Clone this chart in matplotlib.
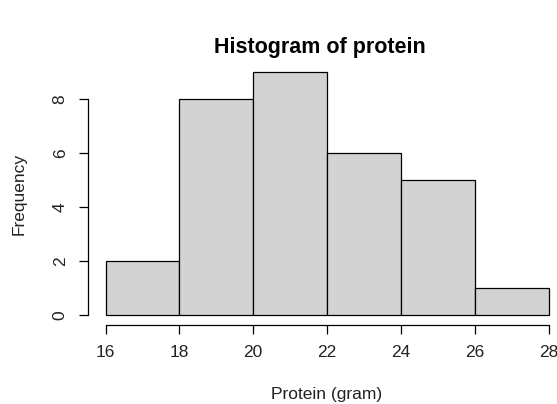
import matplotlib.pyplot as plt

# histogram bins
bin_edges = [16, 18, 20, 22, 24, 26, 28]
counts = [2, 8, 9, 6, 5, 1]
y_ticks = [0, 2, 4, 6, 8]

plt.rcParams['font.family'] = ['Liberation Sans', 'DejaVu Sans']

W, H = 557, 404
fig = plt.figure(figsize=(W / 100, H / 100), dpi=100)

# plot region in pixels (R style, 4% padding on each axis)
left, right = 87.8, 566.4
top, bottom = 62.3, 324.7
ax = fig.add_axes([left / W, 1 - bottom / H, (right - left) / W, (bottom - top) / H])

widths = [b - a for a, b in zip(bin_edges[:-1], bin_edges[1:])]
ax.bar(bin_edges[:-1], counts, width=widths, align='edge',
       color='#d3d3d3', edgecolor='black', linewidth=0.9)

ax.set_xlim(15.52, 28.48)
ax.set_ylim(-0.36, 9.36)

for s in ['top', 'right']:
    ax.spines[s].set_visible(False)
ax.spines['left'].set_bounds(0, 8)
ax.spines['bottom'].set_bounds(16, 28)
for s in ['left', 'bottom']:
    ax.spines[s].set_linewidth(0.9)

ax.set_xticks(bin_edges)
ax.set_yticks(y_ticks)
ax.set_yticklabels([str(v) for v in y_ticks], rotation=90, va='center')
ax.tick_params(direction='out', length=6.5, width=0.9, labelsize=12.5, pad=8,
               labelcolor='#222222')

ax.set_ylabel('Frequency', fontsize=12.5, labelpad=19, color='#222222')
fig.text(327 / W, 1 - 394 / H, 'Protein (gram)', ha='center', va='center',
         fontsize=12.5, color='#222222')
fig.text(320 / W, 1 - 48 / H, 'Histogram of protein', ha='center', va='center',
         fontsize=15.5, fontweight='bold')

fig.savefig('out.png', dpi=100)
